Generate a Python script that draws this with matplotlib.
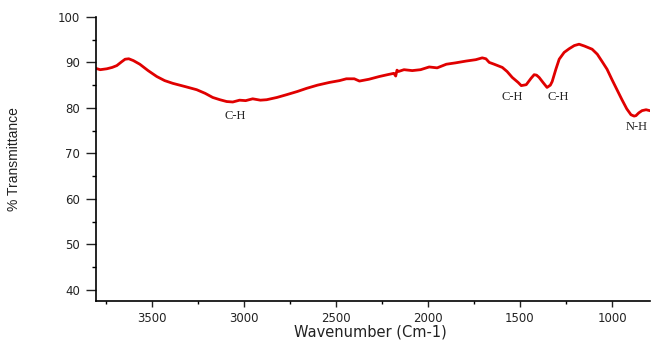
import matplotlib
matplotlib.use('Agg')
from matplotlib import pyplot as plt
from matplotlib.ticker import MultipleLocator

# FTIR spectrum (wavenumber, % transmittance)
wavenumber = [3805, 3780, 3744, 3715, 3690, 3665, 3645, 3625, 3600, 3565, 3520, 3473,
              3430, 3386, 3320, 3256, 3210, 3169, 3130, 3093, 3060, 3023, 2990,
              2952, 2910, 2876, 2820, 2768, 2710, 2659, 2600, 2535, 2480, 2443,
              2400, 2372, 2320, 2264, 2220, 2185, 2175, 2168, 2160, 2130, 2085,
              2040, 1993, 1950, 1900, 1850, 1792, 1740, 1705, 1685, 1667, 1640,
              1596, 1570, 1542, 1510, 1493, 1466, 1440, 1423, 1410, 1396, 1375,
              1353, 1335, 1325, 1305, 1287, 1260, 1233, 1205, 1179, 1150, 1108,
              1080, 1054, 1027, 1000, 973, 946, 920, 897, 880, 870, 855, 837,
              815, 795]
transmittance = [88.7, 88.4, 88.6, 88.9, 89.3, 90.1, 90.7, 90.8, 90.4, 89.6, 88.2, 86.9,
                 86.0, 85.4, 84.7, 84.0, 83.2, 82.3, 81.8, 81.4, 81.3, 81.7, 81.6,
                 82.0, 81.7, 81.8, 82.3, 82.9, 83.6, 84.3, 85.0, 85.6, 86.0, 86.4,
                 86.4, 85.9, 86.3, 86.9, 87.3, 87.6, 87.0, 88.3, 88.0, 88.4, 88.2,
                 88.4, 89.0, 88.8, 89.6, 89.9, 90.3, 90.6, 91.0, 90.8, 90.0, 89.6,
                 88.9, 88.0, 86.7, 85.6, 84.9, 85.1, 86.5, 87.3, 87.2, 86.7, 85.6,
                 84.5, 85.0, 85.8, 88.5, 90.7, 92.2, 93.0, 93.7, 94.0, 93.6, 92.9,
                 91.8, 90.2, 88.5, 86.2, 84.0, 81.8, 79.8, 78.5, 78.2, 78.3, 78.9,
                 79.4, 79.6, 79.4]

peak_labels = ['C-H', 'C-H', 'C-H', 'N-H']
peak_x = [3045, 1540, 1295, 868]
peak_y = [78.3, 82.3, 82.3, 75.9]

fig = plt.figure(figsize=(6.55, 3.45), dpi=100)
ax = fig.add_axes([0.146, 0.128, 0.846, 0.823])
ax.plot(wavenumber, transmittance, color='#e00000', linewidth=2.0)

for lab, x, y in zip(peak_labels, peak_x, peak_y):
    ax.text(x, y, lab, ha='center', va='center', fontsize=9,
            family='Liberation Serif', color='#222222')

ax.set_xlim(3805, 795)
ax.set_ylim(37.6, 100)
ax.xaxis.set_major_locator(MultipleLocator(500))
ax.xaxis.set_minor_locator(MultipleLocator(250))
ax.yaxis.set_major_locator(MultipleLocator(10))
ax.yaxis.set_minor_locator(MultipleLocator(5))
ax.set_yticks([40, 50, 60, 70, 80, 90, 100])

for s in ['top', 'right']:
    ax.spines[s].set_visible(False)
for s in ['left', 'bottom']:
    ax.spines[s].set_linewidth(1.2)

ax.tick_params(axis='both', which='major', direction='out', width=1,
               labelsize=8.5, colors='#222222')
ax.tick_params(axis='both', which='minor', direction='out', length=3, width=1)
ax.tick_params(axis='y', which='major', length=7, pad=4)
ax.tick_params(axis='x', which='major', length=4, pad=4)
ax.tick_params(axis='x', which='minor', length=2.5)
for t in ax.get_xticklabels() + ax.get_yticklabels():
    t.set_family('DejaVu Sans')

ax.set_xlabel('Wavenumber (Cm-1)', fontsize=10.5, family='DejaVu Sans',
              color='#222222')
ax.set_ylabel('% Transmittance', fontsize=10, family='Liberation Sans',
              color='#222222')
ax.xaxis.set_label_coords(0.495, -0.085)
ax.yaxis.set_label_coords(-0.135, 0.5)

fig.savefig('out.png', dpi=100)
